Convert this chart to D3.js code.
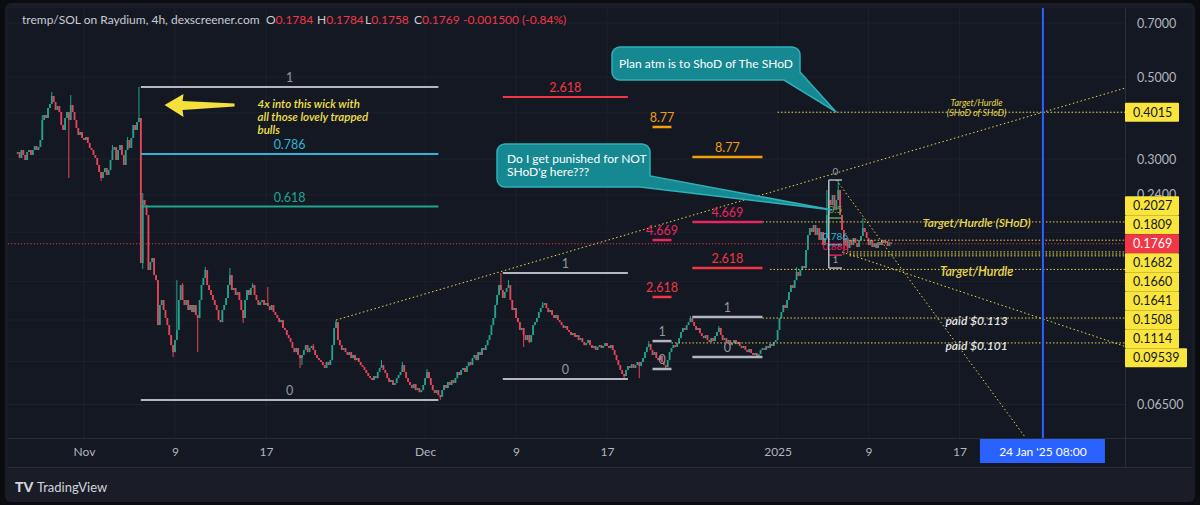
<!DOCTYPE html>
<html><head><meta charset="utf-8">
<script src="https://cdn.jsdelivr.net/npm/d3@7"></script>
<style>
html,body{margin:0;padding:0;background:#0b0c10;}
svg{display:block;font-family:Lato,"Noto Sans",sans-serif;}
</style></head><body>
<svg id="c" width="1200" height="505"></svg>
<script>
// ---------------- DATA ----------------
const startTime = "2024-10-26T04:00:00Z";   // first 4h candle
const firstOpen = 0.3100;
const closes = [
.3134,.3019,.3173,.3076,.2981,.3134,.3173,.3076,.3173,.3253,
.3173,.3233,.3377,.3825,.3946,.3873,.4122,.4226,.4442,.4279,
.4071,.4174,.4020,.3707,.3594,.3873,.4020,.3825,.4200,.4020,
.3825,.3639,.3484,.3549,.3419,.3377,.3441,.3314,.3213,.3173,
.3076,.3019,.2890,.2766,.2665,.2766,.2836,.2715,.2801,.2981,
.3173,.3233,.2981,.3173,.3273,.3076,.2890,.3173,.3377,.3213,
.3419,.3707,.3594,.3777,.3873,.1569,.2324,.2252,.2116,.1502,
.1579,.1619,.1456,.1411,.1066,.1208,.1246,.1171,.1114,.1066,
.1002,.0941,.0901,.0971,.1034,.1246,.1368,.1246,.1208,.1246,
.1171,.1208,.1156,.1208,.1135,.1114,.1246,.1368,.1429,.1502,
.1368,.1326,.1286,.1246,.1208,.1171,.1100,.1086,.1171,.1208,
.1262,.1368,.1456,.1326,.1343,.1286,.1310,.1246,.1171,.1114,
.1246,.1326,.1286,.1343,.1368,.1286,.1246,.1208,.1231,.1246,
.1208,.1223,.1200,.1171,.1208,.1156,.1135,.1114,.1086,.1100,
.1047,.1034,.1002,.0983,.0959,.0924,.0901,.0924,.0885,.0868,
.0885,.0913,.0941,.0901,.0924,.0936,.0913,.0885,.0868,.0857,
.0847,.0831,.0816,.0847,.0831,.0857,.0941,.1047,.1086,.0971,
.0941,.0913,.0924,.0901,.0885,.0901,.0868,.0885,.0857,.0868,
.0847,.0831,.0821,.0806,.0791,.0776,.0766,.0757,.0776,.0766,
.0796,.0816,.0831,.0806,.0791,.0766,.0748,.0757,.0734,.0743,
.0766,.0781,.0796,.0831,.0796,.0766,.0748,.0734,.0720,.0738,
.0711,.0720,.0702,.0711,.0734,.0766,.0796,.0766,.0734,.0711,
.0698,.0711,.0689,.0681,.0711,.0734,.0720,.0748,.0734,.0757,
.0743,.0766,.0796,.0781,.0806,.0816,.0796,.0826,.0847,.0831,
.0868,.0885,.0857,.0901,.0885,.0924,.0913,.0941,.0971,.1002,
.1066,.1114,.1208,.1286,.1368,.1326,.1262,.1310,.1343,.1368,
.1246,.1171,.1186,.1114,.1086,.1034,.1047,.1002,.0971,.1002,
.0959,.1002,.1066,.1086,.1114,.1156,.1186,.1208,.1223,.1186,
.1156,.1171,.1135,.1114,.1135,.1100,.1086,.1066,.1047,.1060,
.1034,.1021,.1002,.1014,.0990,.1002,.0971,.0983,.0959,.0941,
.0953,.0971,.0941,.0924,.0936,.0913,.0930,.0941,.0924,.0936,
.0953,.0936,.0924,.0941,.0913,.0885,.0857,.0831,.0806,.0786,
.0776,.0806,.0826,.0816,.0836,.0816,.0831,.0847,.0826,.0847,
.0868,.0901,.0930,.0947,.0913,.0885,.0901,.0868,.0857,.0879,
.0847,.0831,.0821,.0857,.0901,.0924,.0941,.0930,.0953,.0983,
.1021,.1047,.1034,.1066,.1086,.1114,.1086,.1060,.1034,.1047,
.1014,.0996,.0983,.1002,.0971,.0959,.0983,.0965,.0996,.1021,
.1047,.1002,.0971,.0983,.0959,.0971,.0941,.0953,.0971,.0947,
.0959,.0936,.0924,.0936,.0913,.0901,.0918,.0896,.0885,.0896,
.0879,.0890,.0913,.0924,.0913,.0936,.0924,.0947,.0936,.0959,
.0971,.1034,.1114,.1156,.1208,.1186,.1246,.1310,.1368,.1343,
.1411,.1484,.1447,.1502,.1540,.1521,.1702,.1868,.1952,.1904,
.1988,.1868,.1952,.1811,.1904,.1755,.1834,.2116,.2324,.2252,
.2397,.2183,.2324,.2473,.2116,.1927,.1755,.1834,.1723,.1811,
.1755,.1834,.1777,.1734,.1811,.1857,.1952,.1904,.1834,.1755,
.1811,.1734,.1777,.1723,.1788,.1755,.1811,.1777,.1800,.1744,
.1784,.1769];
// notable wicks: [candle index, price]
const wickHighs = [[13,.3946],[18,.4554],[22,.4171],[28,.4470],[42,.3019],[50,.3273],[58,.3441],[64,.4698],[66,.2427],[84,.1411],[87,.1385],[99,.1530],[112,.1521],[124,.1385],[132,.1351],[156,.0947],[168,.1100],[192,.0857],[203,.0847],[216,.0811],[255,.1474],[259,.1411],[277,.1231],[333,.0965],[355,.1128],[370,.1060],[411,.1530],[427,.2473],[428,.2599],[433,.2632],[446,.2077]];
const wickLows = [[27,.2665],[44,.2616],[66,.1512],[82,.0874],[95,.0901],[119,.1080],[149,.0816],[150,.0831],[223,.0668],[267,.0930],[270,.0953],[320,.0766],[328,.0766],[342,.0811],[390,.0868],[436,.1649],[438,.1670]];

const header = "tremp/SOL on Raydium, 4h, dexscreener.com";
const ohlcLabels = ["O","H","L","C"];
const ohlcValues = ["0.1784","0.1784","0.1758","0.1769"];
const changeText = "-0.001500 (-0.84%)";
const lastPrice = 0.1769;

const yTicks = [0.7,0.5,0.4,0.3,0.24,0.19,0.14,0.11,0.085,0.065];
const xTicks = ["2024-11-01","2024-11-09","2024-11-17","2024-12-01","2024-12-09","2024-12-17","2025-01-01","2025-01-09","2025-01-17"];

// fib tools: level labels, prices, start/end times
const bigFibLevels = ["1","0.786","0.618","0"];
const bigFibPrices = [0.4698,0.3095,0.2230,0.0668];
const bigFibSpan = ["2024-11-06T00:00:00Z","2024-12-02T04:00:00Z"];
const decFibLevels = ["2.618","1","0"];
const decFibPrices = [0.4414,0.1474,0.0762];
const decFibSpan = ["2024-12-07T20:00:00Z","2024-12-18T20:00:00Z"];
const smallFibLevels = ["8.77","4.669","2.618","1","0"];
const smallFibPrices = [0.3662,0.1811,0.1270,0.0965,0.0811];
const smallFibSpan = ["2024-12-21T00:00:00Z","2024-12-22T16:00:00Z"];
const xmasFibLevels = ["8.77","4.669","2.618","1","0"];
const xmasFibPrices = [0.3040,0.2027,0.1521,0.1121,0.0874];
const xmasFibSpan = ["2024-12-24T12:00:00Z","2024-12-30T16:00:00Z"];
const janFibLevels = ["0","0.5","0.786","0.886","1"];
const janFibPrices = [0.2632,0.2077,0.1759,0.1648,0.1521];
const janFibSpan = ["2025-01-05T12:00:00Z","2025-01-06T16:00:00Z"];

// horizontal target lines
const targetPrices = [0.4015,0.2027,0.1809,0.1682,0.1660,0.1641,0.1508,0.1114,0.09539];
const targetStarts = ["2025-01-01T00:00:00Z","2024-12-30T16:00:00Z","2025-01-07T08:00:00Z","2025-01-07T08:00:00Z","2025-01-07T08:00:00Z","2025-01-07T08:00:00Z","2024-12-31T08:00:00Z","2024-12-30T16:00:00Z","2024-12-22T16:00:00Z"];

// trend lines: two anchor points each
const trendUp = [["2024-11-23T04:00:00Z",0.1100],["2025-01-24T08:00:00Z",0.4015]];
const trendSteep = [["2025-01-06T04:00:00Z",0.2632],["2025-01-14T12:00:00Z",0.1178]];
const trendShallow = [["2025-01-06T16:00:00Z",0.1681],["2025-01-24T08:00:00Z",0.1107]];

const markerTime = "2025-01-24T08:00:00Z";

// notes
const noteTexts = [["Target/Hurdle","(SHoD of SHoD)"],["Target/Hurdle (SHoD)"],["Target/Hurdle"],["paid $0.113"],["paid $0.101"]];
const notePrices = [0.4015,0.2027,0.1508,0.1114,0.09539];
const noteTime = "2025-01-18T12:00:00Z";
const wickNote = ["4x into this wick with","all those lovely trapped","bulls"];
const callout1 = ["Plan atm is to ShoD of The SHoD"];
const callout1Tip = ["2025-01-06T04:00:00Z",0.4015];
const callout2 = ["Do I get punished for NOT","SHoD'g here???"];
const callout2Tip = ["2025-01-05T20:00:00Z",0.2183];

// ---------------- CHART ----------------
const svg = d3.select("#c");
const PL=8, PR=1125, PT=8, PB=438, AX=1192, TB=467;
const UP="#22a38c", DN="#ea4459", YEL="#e8d64e", GRID="#1d212c", TXT="#b2b5be";
const x = d3.scaleUtc().domain([new Date("2024-11-01T00:00:00Z"), new Date("2025-01-01T00:00:00Z")]).range([84, 777.6]);
const y = d3.scaleLog().domain([0.065,0.7]).range([404.5,23]);
const T = s => new Date(s);

svg.append("rect").attr("x",5).attr("y",3).attr("width",1190).attr("height",499).attr("rx",6).attr("fill","#1a1d27");
svg.append("rect").attr("x",PL).attr("y",PT).attr("width",AX-PL).attr("height",TB-PT).attr("fill","#141823");

const defs = svg.append("defs");
defs.append("clipPath").attr("id","plotclip").append("rect").attr("x",PL).attr("y",PT).attr("width",PR-PL).attr("height",PB-PT);
const plot = svg.append("g").attr("clip-path","url(#plotclip)");

// grid
plot.append("g").selectAll("line").data(xTicks).join("line")
  .attr("x1",d=>x(T(d))).attr("x2",d=>x(T(d))).attr("y1",PT).attr("y2",PB).attr("stroke",GRID);
plot.append("g").selectAll("line").data(yTicks).join("line")
  .attr("x1",PL).attr("x2",PR).attr("y1",d=>y(d)).attr("y2",d=>y(d)).attr("stroke",GRID);

// candles
const H4 = 4*3600*1000, t0 = Date.parse(startTime);
const candles = closes.map((c,i)=>{const o=i?closes[i-1]:firstOpen;return {t:new Date(t0+i*H4),o,c,h:Math.max(o,c),l:Math.min(o,c)};});
wickHighs.forEach(([i,v])=>{candles[i].h=Math.max(candles[i].h,v);});
wickLows.forEach(([i,v])=>{candles[i].l=Math.min(candles[i].l,v);});
const gC = plot.append("g");
gC.selectAll("line").data(candles).join("line")
  .attr("x1",d=>x(d.t)).attr("x2",d=>x(d.t)).attr("y1",d=>y(d.h)).attr("y2",d=>y(d.l))
  .attr("stroke",d=>d.c>=d.o?UP:DN).attr("stroke-width",1);
gC.selectAll("rect").data(candles).join("rect")
  .attr("x",d=>x(d.t)-0.9).attr("width",1.8)
  .attr("y",d=>y(Math.max(d.o,d.c))).attr("height",d=>Math.max(1.2,Math.abs(y(d.o)-y(d.c))))
  .attr("fill",d=>d.c>=d.o?UP:DN);

// current price line
plot.append("line").attr("x1",PL).attr("x2",PR).attr("y1",y(lastPrice)).attr("y2",y(lastPrice))
  .attr("stroke","#f23645").attr("stroke-width",1).attr("stroke-dasharray","1.2,2");

// target horizontals
plot.append("g").selectAll("line").data(targetPrices).join("line")
  .attr("x1",(d,i)=>x(T(targetStarts[i]))).attr("x2",PR).attr("y1",d=>y(d)).attr("y2",d=>y(d))
  .attr("stroke",YEL).attr("stroke-width",1).attr("stroke-dasharray","1.5,2");

// trend lines extended right
function ray(pts){
  const [a,b]=pts; const x1=x(T(a[0])), y1=y(a[1]), x2=x(T(b[0])), y2=y(b[1]);
  const s=(y2-y1)/(x2-x1); const xe=PR, ye=y1+s*(xe-x1);
  plot.append("line").attr("x1",x1).attr("y1",y1).attr("x2",xe).attr("y2",ye)
    .attr("stroke",YEL).attr("stroke-width",1).attr("stroke-dasharray","1.5,2.5");
}
ray(trendUp); ray(trendSteep); ray(trendShallow);

// fib tools
function fibColor(l){
  return ({"1":["#b4b7bf","#9598a1"],"0":["#b4b7bf","#9598a1"],"0.786":["#2eb4d6","#2eb4d6"],"0.618":["#1fa68e","#1fa68e"],
    "2.618":["#f23645","#f23645"],"4.669":["#e8265f","#e8265f"],"8.77":["#f59e0b","#f59e0b"],"0.5":["#4caf50","#4caf50"],"0.886":["#e91e63","#e91e63"]})[l];
}
function drawFib(levels, prices, span, fs, sw){
  const x0=x(T(span[0])), x1=x(T(span[1]));
  const g=plot.append("g");
  levels.forEach((lv,k)=>{
    const yy=y(prices[k]), c=fibColor(lv);
    g.append("line").attr("x1",x0).attr("x2",x1).attr("y1",yy).attr("y2",yy).attr("stroke",c[0]).attr("stroke-width",sw);
    g.append("text").attr("x",(x0+x1)/2).attr("y",yy-5).attr("text-anchor","middle").attr("fill",c[1])
      .attr("font-size",fs).text(lv);
  });
  return g;
}
drawFib(bigFibLevels,bigFibPrices,bigFibSpan,12.5,2);
drawFib(decFibLevels,decFibPrices,decFibSpan,12.5,2);
drawFib(smallFibLevels,smallFibPrices,smallFibSpan,12.5,2.5);
drawFib(xmasFibLevels,xmasFibPrices,xmasFibSpan,12.5,2.5);
const jg = drawFib(janFibLevels,janFibPrices,janFibSpan,10,1.5);
jg.append("line").attr("x1",x(T(janFibSpan[0]))).attr("x2",x(T(janFibSpan[0])))
  .attr("y1",y(janFibPrices[0])).attr("y2",y(janFibPrices[4])).attr("stroke","#b4b7bf").attr("stroke-width",1.5);

// notes on targets
const nx = x(T(noteTime));
const noteSize = [9,12,12.5,12,12];
noteTexts.forEach((lines,i)=>{
  const yy=y(notePrices[i]);
  const small = lines.length>1;
  const t = plot.append("text").attr("text-anchor","middle").attr("font-style","italic").attr("font-weight",small?400:600)
    .attr("font-size",noteSize[i]).attr("fill",i>=3?"#e6e6e6":YEL);
  if(small){
    lines.forEach((s,k)=>t.append("tspan").attr("x",nx).attr("y",yy-6+k*10).text(s));
  } else {
    t.attr("x",nx).attr("y",yy+(i===1?5:7)).text(lines[0]);
  }
});

// vertical marker line
const mx = x(T(markerTime));
svg.append("line").attr("x1",mx).attr("x2",mx).attr("y1",PT).attr("y2",PB+25).attr("stroke","#2962ff").attr("stroke-width",2);

// wick arrow + note
const ax = x(T("2024-11-08T02:00:00Z")), ay = y(0.4198);
svg.append("path").attr("fill","#f5e03c")
  .attr("d",`M${ax},${ay} L${ax+19},${ay-11} L${ax+18},${ay-4} L${ax+70},${ay-1.5} L${ax+70},${ay+1.5} L${ax+18},${ay+5} L${ax+19},${ay+12} Z`);
const wn = svg.append("g").attr("font-style","italic").attr("font-weight",600).attr("font-size",11.5).attr("fill","#f2e04b");
wickNote.forEach((s,k)=>wn.append("text").attr("x",ax+93).attr("y",ay+3+k*13).text(s));

// callouts
function bubble(bx,by,bw,bh,tip,lines,kind){
  const r=8, tx=x(T(tip[0])), ty=y(tip[1]);
  const a = kind===1?8:11, b = kind===1?16:10;
  const d=`M${bx+r},${by} H${bx+bw-r} A${r},${r} 0 0 1 ${bx+bw},${by+r} V${by+bh-a} L${tx},${ty} L${bx+bw-b},${by+bh} H${bx+r} A${r},${r} 0 0 1 ${bx},${by+bh-r} V${by+r} A${r},${r} 0 0 1 ${bx+r},${by} Z`;
  svg.append("path").attr("d",d).attr("fill","#168891").attr("stroke","#2fb0b8").attr("stroke-width",1.5);
  const t=svg.append("text").attr("fill","#ffffff").attr("font-size",12);
  if(lines.length===1){ t.attr("x",bx+bw/2).attr("y",by+bh/2+4.5).attr("text-anchor","middle").text(lines[0]); }
  else lines.forEach((s,k)=>t.append("tspan").attr("x",bx+10).attr("y",by+19+k*13).text(s));
}
bubble(612,47,188,33,callout1Tip,callout1,1);
bubble(497,144,153,43,callout2Tip,callout2,2);

// header legend
const hd = svg.append("text").attr("y",24).attr("font-size",12).attr("fill","#c9cbd1");
hd.append("tspan").attr("x",22).text(header);
const hx=[266,317,365,414];
ohlcLabels.forEach((l,i)=>{
  hd.append("tspan").attr("x",hx[i]).attr("fill","#c9cbd1").text(l);
  hd.append("tspan").attr("fill","#f23645").text(ohlcValues[i]);
});
hd.append("tspan").attr("x",463).attr("fill","#f23645").text(changeText);

// separators
svg.append("line").attr("x1",PL).attr("x2",AX).attr("y1",PB+0.5).attr("y2",PB+0.5).attr("stroke","#2a2e39");
svg.append("line").attr("x1",PR+0.5).attr("x2",PR+0.5).attr("y1",PT).attr("y2",TB).attr("stroke","#2a2e39");
svg.append("line").attr("x1",PL).attr("x2",AX).attr("y1",TB+0.5).attr("y2",TB+0.5).attr("stroke","#2a2e39");

// price labels on right axis (stacked around the last price)
const fmt = d3.format(".4r");
const items = targetPrices.map(p=>({p,kind:"t"})).concat([{p:lastPrice,kind:"price"}]).sort((a,b)=>b.p-a.p);
const LH=19; const pi=items.findIndex(d=>d.kind==="price");
items[pi].ly=y(items[pi].p);
for(let k=pi-1;k>=0;k--) items[k].ly=Math.min(y(items[k].p),items[k+1].ly-LH);
for(let k=pi+1;k<items.length;k++) items[k].ly=Math.max(y(items[k].p),items[k-1].ly+LH);

// price axis (tick labels hidden where a price label box sits on top)
const visibleTicks = yTicks.filter(v=>items.every(d=>Math.abs(d.ly-y(v))>9.5));
const yAxis = svg.append("g").attr("transform",`translate(${PR},0)`)
  .call(d3.axisRight(y).tickValues(visibleTicks).tickFormat(fmt).tickSize(0).tickPadding(12));
yAxis.select(".domain").remove();
yAxis.selectAll("text").attr("fill",TXT).attr("font-size",12.5).attr("font-family","Lato,'Noto Sans',sans-serif");

// time axis
const xAxis = svg.append("g").attr("transform",`translate(0,${PB})`)
  .call(d3.axisBottom(x).tickValues(xTicks.map(T)).tickSize(0).tickPadding(9)
    .tickFormat(d=>d.getUTCDate()===1?(d.getUTCMonth()===0?d3.utcFormat("%Y")(d):d3.utcFormat("%b")(d)):d3.utcFormat("%-d")(d)));
xAxis.select(".domain").remove();
xAxis.selectAll("text").attr("fill",TXT).attr("font-size",12).attr("font-family","Lato,'Noto Sans',sans-serif");

// marker time label
svg.append("rect").attr("x",mx-63).attr("y",PB+1).attr("width",125).attr("height",24).attr("fill","#2962ff");
svg.append("text").attr("x",mx).attr("y",PB+17.5).attr("text-anchor","middle").attr("fill","#fff").attr("font-size",12)
  .text(d3.utcFormat("%-d %b '%y")(T(markerTime)) + "   " + d3.utcFormat("%H:%M")(T(markerTime)));

const lg = svg.append("g");
items.forEach(d=>{
  const s=fmt(d.p); const w = s.length>6?62:54;
  lg.append("rect").attr("x",PR).attr("y",d.ly-9.5).attr("width",w).attr("height",19).attr("rx",1)
    .attr("fill",d.kind==="price"?"#f23645":"#f9e53b");
  lg.append("text").attr("x",PR+8).attr("y",d.ly+4.5).attr("font-size",12.5)
    .attr("fill",d.kind==="price"?"#ffffff":"#131722").text(s);
});

// footer logo
svg.append("text").attr("x",15).attr("y",492).attr("font-size",14).attr("font-weight",900).attr("fill","#d1d4dc").text("TV");
svg.append("text").attr("x",37).attr("y",492).attr("font-size",13).attr("fill","#d1d4dc").text("TradingView");
</script>
</body></html>
